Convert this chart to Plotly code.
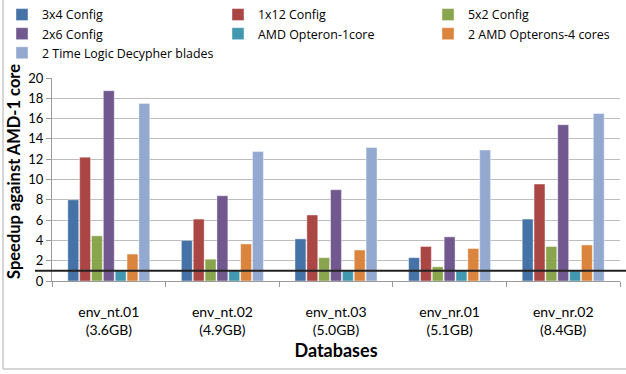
import plotly.graph_objects as go

categories = ["env_nt.01<br>(3.6GB)", "env_nt.02<br>(4.9GB)", "env_nt.03<br>(5.0GB)",
              "env_nr.01<br>(5.1GB)", "env_nr.02<br>(8.4GB)"]
series_names = ["3x4 Config", "1x12 Config", "5x2 Config", "2x6 Config",
                "AMD Opteron-1core", "2 AMD Opterons-4 cores", "2 Time Logic Decypher blades"]
cfg_3x4 = [8.0, 4.0, 4.15, 2.3, 6.1]
cfg_1x12 = [12.2, 6.1, 6.5, 3.4, 9.55]
cfg_5x2 = [4.45, 2.15, 2.3, 1.4, 3.4]
cfg_2x6 = [18.75, 8.4, 9.0, 4.35, 15.4]
amd_1core = [1.0, 1.0, 1.0, 1.0, 1.0]
amd_4cores = [2.65, 3.65, 3.05, 3.2, 3.55]
decypher = [17.5, 12.75, 13.15, 12.9, 16.5]
series_values = [cfg_3x4, cfg_1x12, cfg_5x2, cfg_2x6, amd_1core, amd_4cores, decypher]
colors = ["#4572A7", "#AA4643", "#89A54E", "#71588F", "#4198AF", "#DB843D", "#93A9CF"]
legend_ids = ["legend", "legend2", "legend3", "legend", "legend2", "legend3", "legend"]
y_ticks = list(range(0, 21, 2))
y_title = "Speedup against AMD-1 core"
x_title = "Databases"
baseline = 1

W, H = 626, 374
L, R, T, B = 52, 6, 78, 93

fig = go.Figure()
for name, vals, c, lg in zip(series_names, series_values, colors, legend_ids):
    fig.add_trace(go.Bar(x=categories, y=vals, name=name, marker_color=c, legend=lg,
                         marker_line=dict(color="rgba(255,255,255,0.7)", width=0.6)))

pw = W - L - R
ph = H - T - B


def leg(xpx):
    return dict(orientation="v", xref="container", yref="container",
                x=xpx / W, y=1, xanchor="left", yanchor="top",
                font=dict(size=12.4, family="Open Sans, sans-serif"),
                tracegroupgap=0, bgcolor="rgba(0,0,0,0)")


fig.update_layout(
    width=W, height=H,
    margin=dict(l=L, r=R, t=T, b=B, autoexpand=False),
    paper_bgcolor="white", plot_bgcolor="white",
    barmode="group", bargap=0.27, bargroupgap=0.08,
    font=dict(family="Lato, Open Sans, sans-serif", size=13, color="#000000"),
    legend=leg(2), legend2=leg(218), legend3=leg(428),
    showlegend=True,
    xaxis=dict(title=dict(text="<b>" + x_title + "</b>", font=dict(size=18), standoff=7),
               showline=True, linecolor="#9a9a9a", linewidth=1,
               ticks="outside", tickson="boundaries", ticklen=5, tickcolor="#9a9a9a",
               tickmode="array", tickvals=categories, ticktext=["<br>" + c for c in categories],
               tickfont=dict(size=14), showgrid=False),
    yaxis=dict(range=[0, 20], tickvals=y_ticks, showline=True, linecolor="#9a9a9a",
               ticks="outside", ticklen=5, tickcolor="#9a9a9a",
               tickfont=dict(size=13), showgrid=True, gridcolor="#bdbdbd", gridwidth=1,
               zeroline=False),
    annotations=[
        dict(text="<b>" + y_title + "</b>", textangle=-90, xref="paper", yref="paper",
             x=(14 - L) / pw, y=(H - B - 172) / ph, xanchor="center", yanchor="middle",
             showarrow=False, font=dict(size=16.5)),
    ],
    shapes=[
        dict(type="line", xref="paper", yref="y", x0=(35 - L) / pw, x1=(W - L) / pw,
             y0=baseline, y1=baseline, line=dict(color="#222222", width=2)),
        dict(type="line", xref="paper", yref="paper", x0=(3 - L) / pw, x1=(3 - L) / pw,
             y0=-(369 - (H - B)) / ph, y1=(H - B - 0) / ph, line=dict(color="#c8c8c8", width=1.5)),
        dict(type="line", xref="paper", yref="paper", x0=(3 - L) / pw, x1=(W - L) / pw,
             y0=-(369 - (H - B)) / ph, y1=-(369 - (H - B)) / ph, line=dict(color="#c8c8c8", width=1.5)),
    ],
)
fig.write_html("out.html", config={"displayModeBar": False},
               post_script="document.body.style.margin='0';document.body.style.overflow='hidden';")
